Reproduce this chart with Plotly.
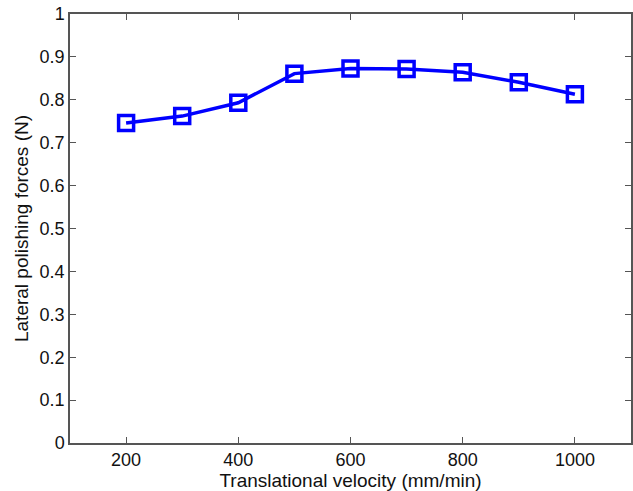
import plotly.graph_objects as go

velocity = [200, 300, 400, 500, 600, 700, 800, 900, 1000]
force = [0.746, 0.762, 0.793, 0.861, 0.873, 0.872, 0.864, 0.841, 0.813]

x_ticks = [200, 400, 600, 800, 1000]
y_ticks = [0, 0.1, 0.2, 0.3, 0.4, 0.5, 0.6, 0.7, 0.8, 0.9, 1]
y_labels = ["0", "0.1", "0.2", "0.3", "0.4", "0.5", "0.6", "0.7", "0.8", "0.9", "1"]

FONT = "Liberation Sans, Arial"

fig = go.Figure()
fig.add_trace(go.Scatter(
    x=velocity, y=force, mode="lines+markers",
    line=dict(color="#0000FF", width=3.5),
    marker=dict(symbol="square-open", size=15, color="#0000FF",
                line=dict(color="#0000FF", width=3.5)),
    showlegend=False,
))

axis_common = dict(
    showgrid=False, zeroline=False, showline=True, linecolor="#555555", linewidth=1.5,
    mirror="ticks", ticks="inside", ticklen=6, tickcolor="#555555", tickwidth=1,
    tickfont=dict(family=FONT, size=18, color="#111111"),
)

fig.update_xaxes(range=[100, 1100], tickvals=x_ticks,
                 title=dict(text="Translational velocity (mm/min)", standoff=1,
                            font=dict(family=FONT, size=19, color="#111111")),
                 **axis_common)
fig.update_yaxes(range=[0, 1], tickvals=y_ticks, ticktext=y_labels,
                 title=dict(text="Lateral polishing forces (N)", standoff=6,
                            font=dict(family=FONT, size=19, color="#111111")),
                 **axis_common)

fig.update_layout(
    width=633, height=491,
    margin=dict(l=70, r=0, t=14, b=48),
    paper_bgcolor="white", plot_bgcolor="white",
)

fig.write_html("out.html")
